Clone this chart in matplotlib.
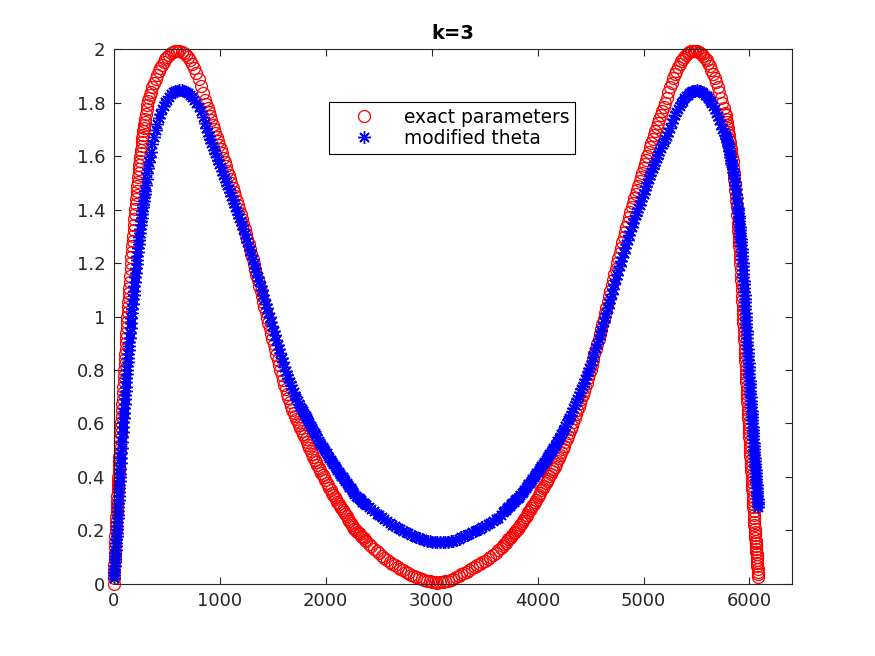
import matplotlib
matplotlib.use("Agg")
import matplotlib.pyplot as plt

# Sample positions (shared by both series)
x_pts = [
    # steep start
    0, 2, 4, 6, 8, 10, 12, 14, 16, 18, 20, 22, 24, 26, 28, 30, 32, 34, 36, 38, 40, 42, 44, 46, 48, 50,
    52, 54, 56, 58, 60,
    63, 66, 69, 72, 75, 78, 81, 84, 87, 90, 93, 96, 99, 102, 105, 108, 111, 114, 117, 120, 123, 126,
    129, 132, 135, 138, 141, 144, 147,
    151, 155, 159, 163, 167, 171, 175, 179, 183, 187, 191, 195, 199, 203, 207, 211, 215, 219, 223, 227,
    231, 235, 239, 243, 247, 251, 255, 259, 263, 267, 271, 275, 279, 283, 287, 291, 295,
    # first peak
    302, 310, 318, 326, 334, 342, 350, 365, 380, 395, 410, 425, 440, 455, 470, 485, 500, 520, 540, 560,
    580, 600, 620, 640, 660, 680, 700, 720, 740, 760, 780, 800, 820, 840, 860,
    # going down
    872, 885, 897, 910, 922, 935, 947, 960, 972, 985, 997, 1010, 1022, 1035, 1047, 1060, 1072, 1085,
    1097, 1110, 1122, 1135, 1147, 1160, 1172, 1185, 1197, 1210, 1222, 1235, 1247, 1260, 1272, 1285,
    1297, 1310, 1322, 1335, 1347, 1360, 1372, 1385, 1397, 1410, 1422, 1435, 1447, 1460, 1472, 1485,
    1497, 1510, 1522, 1535, 1547, 1560, 1572, 1585, 1597, 1610, 1622, 1635, 1647, 1660, 1672, 1685,
    1697, 1710, 1722, 1735, 1747, 1760, 1772, 1785, 1797, 1810, 1822, 1835, 1847, 1860, 1872, 1885,
    1897, 1910, 1922, 1935, 1947, 1960, 1972, 1985, 1997, 2010, 2022, 2035, 2047, 2060, 2072, 2085,
    2097, 2110, 2122, 2135, 2147, 2160, 2172, 2185, 2197, 2210, 2222, 2235, 2247, 2260, 2272, 2285,
    2297, 2310, 2322, 2335, 2347, 2360, 2372, 2385, 2408,
    # bottom
    2430, 2455, 2480, 2505, 2530, 2555, 2580, 2605, 2630, 2655, 2680, 2705, 2730, 2755, 2780, 2805,
    2830, 2855, 2880, 2905, 2930, 2955, 2980, 3005, 3030, 3055, 3080, 3105, 3130, 3155, 3180, 3205,
    3230, 3255, 3280, 3305, 3330, 3355, 3380, 3405, 3430, 3455, 3480, 3505, 3530, 3555, 3580, 3605,
    3630, 3652,
    # going up
    3675, 3687, 3700, 3712, 3725, 3737, 3750, 3762, 3775, 3787, 3800, 3812, 3825, 3837, 3850, 3862,
    3875, 3887, 3900, 3912, 3925, 3937, 3950, 3962, 3975, 3987, 4000, 4012, 4025, 4037, 4050, 4062,
    4075, 4087, 4100, 4112, 4125, 4137, 4150, 4162, 4175, 4187, 4200, 4212, 4225, 4237, 4250, 4262,
    4275, 4287, 4300, 4312, 4325, 4337, 4350, 4362, 4375, 4387, 4400, 4412, 4425, 4437, 4450, 4462,
    4475, 4487, 4500, 4512, 4525, 4537, 4550, 4562, 4575, 4587, 4600, 4612, 4625, 4637, 4650, 4662,
    4675, 4687, 4700, 4712, 4725, 4737, 4750, 4762, 4775, 4787, 4800, 4812, 4825, 4837, 4850, 4862,
    4875, 4887, 4900, 4912, 4925, 4937, 4950, 4962, 4975, 4987, 5000, 5012, 5025, 5037, 5050, 5062,
    5075, 5087, 5100, 5112, 5125, 5137, 5150, 5162, 5175, 5190,
    # second peak
    5205, 5220, 5235, 5250, 5265, 5280, 5295, 5310, 5325, 5340, 5355, 5370, 5385, 5400, 5415, 5430,
    5445, 5460, 5475, 5490, 5505, 5520, 5535, 5550, 5565, 5580, 5595, 5610, 5625, 5640, 5655, 5670,
    5685, 5700, 5715, 5730, 5745, 5757,
    # steep end
    5770, 5775, 5780, 5785, 5790, 5795, 5800, 5805, 5810, 5815, 5820, 5825, 5830, 5835, 5840, 5845,
    5850, 5855, 5860, 5865, 5870, 5875, 5880, 5885, 5890, 5892,
    5895, 5897, 5900, 5902, 5905, 5907, 5910, 5912, 5915, 5917, 5920, 5922, 5925, 5927, 5930, 5932,
    5935, 5937,
    5939, 5941, 5943, 5945, 5947, 5949, 5951, 5953, 5955, 5957, 5959, 5961, 5963, 5965, 5967, 5969,
    5971, 5973, 5975, 5977, 5979, 5981, 5983, 5985, 5987, 5989, 5991, 5993, 5995, 5997, 5999, 6001,
    6003, 6005, 6007, 6009, 6011, 6013, 6015, 6017, 6019, 6021, 6023, 6025, 6027, 6029, 6031, 6033,
    6035, 6037, 6039, 6041, 6043, 6045, 6047, 6049, 6051, 6053, 6055, 6057, 6059, 6061, 6063, 6065,
    6067, 6069, 6071, 6073, 6075, 6077, 6079, 6081, 6083,
]

# "exact parameters" (red circles)
exact_vals = [
    0.000, 0.023, 0.046, 0.070, 0.092, 0.114, 0.136, 0.157, 0.179, 0.200, 0.217, 0.233, 0.249, 0.265,
    0.281, 0.296, 0.311, 0.327, 0.342, 0.357, 0.371, 0.386, 0.401, 0.415, 0.430, 0.445, 0.459, 0.474,
    0.489, 0.503, 0.518,
    0.541, 0.563, 0.585, 0.607, 0.629, 0.650, 0.671, 0.693, 0.714, 0.736, 0.757, 0.778, 0.800, 0.821,
    0.840, 0.860, 0.880, 0.900, 0.920, 0.940, 0.960, 0.980, 0.999, 1.018, 1.036, 1.053, 1.071, 1.088,
    1.106,
    1.129, 1.153, 1.177, 1.200, 1.221, 1.241, 1.262, 1.282, 1.303, 1.323, 1.343, 1.364, 1.384, 1.403,
    1.421, 1.438, 1.455, 1.471, 1.488, 1.504, 1.521, 1.537, 1.552, 1.567, 1.582, 1.596, 1.610, 1.624,
    1.639, 1.653, 1.667, 1.680, 1.693, 1.706, 1.717, 1.729, 1.740,
    1.757, 1.775, 1.791, 1.805, 1.818, 1.830, 1.840, 1.858, 1.874, 1.890, 1.905, 1.918, 1.931, 1.942,
    1.953, 1.962, 1.970, 1.979, 1.986, 1.991, 1.994, 1.995, 1.994, 1.991, 1.986, 1.979, 1.970, 1.959,
    1.946, 1.931, 1.912, 1.890, 1.864, 1.837, 1.810,
    1.795, 1.780, 1.765, 1.749, 1.734, 1.718, 1.703, 1.687, 1.672, 1.656, 1.641, 1.625, 1.610, 1.594,
    1.578, 1.562, 1.546, 1.530, 1.514, 1.498, 1.482, 1.466, 1.450, 1.434, 1.418, 1.402, 1.384, 1.365,
    1.347, 1.328, 1.309, 1.290, 1.271, 1.252, 1.233, 1.214, 1.195, 1.175, 1.156, 1.136, 1.116, 1.096,
    1.076, 1.056, 1.036, 1.016, 0.996, 0.976, 0.956, 0.936, 0.916, 0.896, 0.877, 0.857, 0.838, 0.818,
    0.799, 0.780, 0.763, 0.745, 0.729, 0.712, 0.697, 0.681, 0.667, 0.652, 0.640, 0.627, 0.616, 0.604,
    0.593, 0.582, 0.572, 0.562, 0.552, 0.541, 0.530, 0.519, 0.508, 0.497, 0.487, 0.476, 0.465, 0.454,
    0.445, 0.435, 0.426, 0.416, 0.407, 0.398, 0.389, 0.379, 0.370, 0.360, 0.351, 0.341, 0.332, 0.323,
    0.316, 0.308, 0.300, 0.292, 0.284, 0.276, 0.268, 0.260, 0.252, 0.244, 0.236, 0.228, 0.220, 0.212,
    0.206, 0.200, 0.195, 0.190, 0.185, 0.180, 0.175, 0.170, 0.165, 0.160, 0.150,
    0.140, 0.131, 0.123, 0.114, 0.106, 0.098, 0.090, 0.083, 0.076, 0.069, 0.063, 0.057, 0.051, 0.045,
    0.039, 0.034, 0.030, 0.025, 0.021, 0.017, 0.014, 0.011, 0.009, 0.007, 0.006, 0.005, 0.006, 0.007,
    0.009, 0.012, 0.015, 0.019, 0.024, 0.029, 0.035, 0.040, 0.046, 0.052, 0.058, 0.063, 0.069, 0.074,
    0.080, 0.087, 0.094, 0.101, 0.109, 0.117, 0.125, 0.133,
    0.142, 0.148, 0.154, 0.160, 0.166, 0.172, 0.177, 0.183, 0.189, 0.195, 0.200, 0.206, 0.212, 0.220,
    0.227, 0.235, 0.243, 0.251, 0.259, 0.267, 0.275, 0.283, 0.291, 0.299, 0.307, 0.315, 0.323, 0.332,
    0.341, 0.350, 0.358, 0.367, 0.376, 0.385, 0.394, 0.403, 0.412, 0.421, 0.429, 0.438, 0.447, 0.458,
    0.469, 0.481, 0.493, 0.505, 0.517, 0.529, 0.541, 0.553, 0.565, 0.579, 0.592, 0.607, 0.621, 0.635,
    0.649, 0.663, 0.677, 0.692, 0.706, 0.722, 0.737, 0.753, 0.769, 0.785, 0.800, 0.819, 0.838, 0.858,
    0.877, 0.896, 0.915, 0.935, 0.954, 0.973, 0.992, 1.013, 1.033, 1.054, 1.075, 1.096, 1.117, 1.138,
    1.158, 1.179, 1.200, 1.219, 1.238, 1.258, 1.277, 1.296, 1.315, 1.335, 1.354, 1.373, 1.392, 1.409,
    1.426, 1.442, 1.458, 1.474, 1.490, 1.506, 1.522, 1.538, 1.554, 1.570, 1.586, 1.602, 1.617, 1.633,
    1.648, 1.663, 1.678, 1.694, 1.709, 1.725, 1.740, 1.755, 1.770, 1.784,
    1.798, 1.819, 1.839, 1.857, 1.875, 1.891, 1.906, 1.920, 1.933, 1.944, 1.954, 1.963, 1.972, 1.978,
    1.984, 1.988, 1.992, 1.994, 1.995, 1.995, 1.993, 1.990, 1.987, 1.981, 1.975, 1.967, 1.958, 1.947,
    1.936, 1.923, 1.909, 1.893, 1.877, 1.859, 1.840, 1.819, 1.798, 1.781,
    1.763, 1.752, 1.740, 1.728, 1.716, 1.704, 1.691, 1.678, 1.665, 1.652, 1.638, 1.625, 1.611, 1.596,
    1.580, 1.559, 1.537, 1.516, 1.494, 1.473, 1.452, 1.431, 1.410, 1.381, 1.351, 1.339,
    1.321, 1.307, 1.292, 1.277, 1.262, 1.247, 1.232, 1.215, 1.198, 1.178, 1.157, 1.137, 1.117, 1.098,
    1.078, 1.059, 1.039, 1.024,
    1.008, 0.992, 0.976, 0.960, 0.944, 0.928, 0.912, 0.896, 0.880, 0.864, 0.848, 0.832, 0.816, 0.800,
    0.785, 0.770, 0.755, 0.740, 0.726, 0.711, 0.696, 0.681, 0.666, 0.651, 0.637, 0.622, 0.607, 0.593,
    0.579, 0.564, 0.550, 0.535, 0.521, 0.507, 0.493, 0.478, 0.464, 0.450, 0.436, 0.421, 0.407, 0.393,
    0.380, 0.366, 0.353, 0.339, 0.326, 0.313, 0.300, 0.286, 0.273, 0.259, 0.246, 0.233, 0.220, 0.207,
    0.195, 0.184, 0.173, 0.162, 0.152, 0.141, 0.131, 0.120, 0.110, 0.099, 0.089, 0.078, 0.067, 0.056,
    0.046, 0.035, 0.025,
]

# "modified theta" (blue asterisks)
modified_vals = [
    0.020, 0.032, 0.044, 0.056, 0.068, 0.080, 0.092, 0.104, 0.116, 0.128, 0.141, 0.153, 0.166, 0.179,
    0.192, 0.205, 0.218, 0.232, 0.246, 0.259, 0.273, 0.287, 0.301, 0.315, 0.329, 0.343, 0.357, 0.371,
    0.384, 0.398, 0.412,
    0.430, 0.451, 0.471, 0.490, 0.510, 0.529, 0.548, 0.567, 0.586, 0.604, 0.622, 0.639, 0.656, 0.673,
    0.690, 0.706, 0.722, 0.738, 0.754, 0.770, 0.786, 0.801, 0.816, 0.831, 0.846, 0.861, 0.875, 0.889,
    0.903,
    0.921, 0.940, 0.958, 0.977, 0.995, 1.013, 1.030, 1.047, 1.064, 1.081, 1.097, 1.114, 1.130, 1.147,
    1.163, 1.180, 1.195, 1.211, 1.226, 1.241, 1.255, 1.270, 1.285, 1.299, 1.314, 1.328, 1.342, 1.356,
    1.369, 1.383, 1.396, 1.409, 1.422, 1.434, 1.446, 1.458, 1.470,
    1.491, 1.514, 1.536, 1.557, 1.577, 1.596, 1.614, 1.645, 1.673, 1.698, 1.721, 1.741, 1.759, 1.775,
    1.789, 1.801, 1.811, 1.823, 1.832, 1.839, 1.843, 1.845, 1.846, 1.846, 1.844, 1.841, 1.836, 1.829,
    1.820, 1.809, 1.797, 1.785, 1.767, 1.746, 1.723,
    1.706, 1.689, 1.676, 1.663, 1.650, 1.637, 1.624, 1.610, 1.597, 1.584, 1.571, 1.558, 1.545, 1.531,
    1.518, 1.505, 1.492, 1.478, 1.465, 1.451, 1.437, 1.423, 1.410, 1.396, 1.383, 1.369, 1.356, 1.342,
    1.326, 1.310, 1.295, 1.279, 1.263, 1.247, 1.231, 1.214, 1.198, 1.182, 1.166, 1.149, 1.133, 1.116,
    1.099, 1.082, 1.065, 1.048, 1.031, 1.014, 0.997, 0.980, 0.963, 0.946, 0.929, 0.912, 0.895, 0.878,
    0.862, 0.845, 0.829, 0.813, 0.798, 0.783, 0.769, 0.755, 0.742, 0.729, 0.717, 0.704, 0.694, 0.683,
    0.673, 0.663, 0.654, 0.645, 0.637, 0.628, 0.619, 0.610, 0.601, 0.591, 0.582, 0.572, 0.564, 0.555,
    0.546, 0.536, 0.528, 0.520, 0.512, 0.504, 0.496, 0.488, 0.480, 0.472, 0.464, 0.456, 0.448, 0.440,
    0.433, 0.425, 0.419, 0.412, 0.405, 0.398, 0.392, 0.385, 0.378, 0.371, 0.364, 0.357, 0.351, 0.344,
    0.337, 0.330, 0.325, 0.320, 0.316, 0.312, 0.308, 0.303, 0.299, 0.295, 0.288,
    0.281, 0.272, 0.263, 0.256, 0.249, 0.242, 0.235, 0.228, 0.221, 0.215, 0.210, 0.204, 0.199, 0.194,
    0.189, 0.184, 0.180, 0.176, 0.172, 0.168, 0.165, 0.162, 0.160, 0.158, 0.157, 0.156, 0.155, 0.155,
    0.156, 0.157, 0.159, 0.162, 0.165, 0.169, 0.174, 0.178, 0.183, 0.188, 0.193, 0.198, 0.203, 0.207,
    0.212, 0.217, 0.223, 0.229, 0.235, 0.241, 0.248, 0.257,
    0.267, 0.272, 0.277, 0.282, 0.287, 0.292, 0.297, 0.302, 0.306, 0.312, 0.317, 0.322, 0.326, 0.332,
    0.338, 0.345, 0.351, 0.358, 0.365, 0.372, 0.379, 0.386, 0.392, 0.399, 0.406, 0.413, 0.419, 0.427,
    0.434, 0.441, 0.448, 0.456, 0.464, 0.472, 0.479, 0.487, 0.494, 0.502, 0.509, 0.517, 0.524, 0.533,
    0.541, 0.551, 0.561, 0.571, 0.581, 0.591, 0.601, 0.612, 0.622, 0.633, 0.644, 0.656, 0.668, 0.680,
    0.692, 0.704, 0.716, 0.728, 0.740, 0.753, 0.766, 0.780, 0.793, 0.807, 0.820, 0.835, 0.850, 0.866,
    0.882, 0.899, 0.915, 0.931, 0.947, 0.964, 0.980, 0.997, 1.014, 1.032, 1.049, 1.067, 1.085, 1.103,
    1.121, 1.139, 1.156, 1.173, 1.190, 1.206, 1.222, 1.239, 1.255, 1.271, 1.287, 1.304, 1.320, 1.335,
    1.350, 1.364, 1.378, 1.392, 1.405, 1.419, 1.433, 1.447, 1.460, 1.474, 1.487, 1.501, 1.514, 1.528,
    1.541, 1.554, 1.566, 1.579, 1.592, 1.606, 1.619, 1.632, 1.644, 1.654,
    1.663, 1.677, 1.690, 1.707, 1.723, 1.738, 1.753, 1.766, 1.778, 1.789, 1.799, 1.808, 1.817, 1.824,
    1.830, 1.835, 1.839, 1.842, 1.844, 1.845, 1.846, 1.845, 1.843, 1.840, 1.836, 1.830, 1.824, 1.816,
    1.808, 1.798, 1.788, 1.776, 1.763, 1.749, 1.735, 1.719, 1.702, 1.690,
    1.680, 1.674, 1.667, 1.660, 1.653, 1.646, 1.638, 1.629, 1.619, 1.609, 1.598, 1.587, 1.576, 1.565,
    1.553, 1.542, 1.530, 1.518, 1.505, 1.491, 1.476, 1.459, 1.442, 1.424, 1.405, 1.397,
    1.386, 1.377, 1.367, 1.357, 1.347, 1.336, 1.325, 1.314, 1.302, 1.290, 1.278, 1.266, 1.253, 1.240,
    1.227, 1.214, 1.200, 1.189,
    1.174, 1.160, 1.147, 1.133, 1.120, 1.106, 1.093, 1.079, 1.066, 1.053, 1.040, 1.027, 1.014, 1.000,
    0.987, 0.973, 0.960, 0.946, 0.933, 0.919, 0.906, 0.892, 0.879, 0.865, 0.852, 0.838, 0.825, 0.812,
    0.799, 0.786, 0.773, 0.760, 0.748, 0.735, 0.723, 0.710, 0.698, 0.685, 0.673, 0.660, 0.648, 0.636,
    0.624, 0.612, 0.600, 0.588, 0.576, 0.564, 0.552, 0.540, 0.528, 0.516, 0.505, 0.493, 0.482, 0.470,
    0.459, 0.447, 0.436, 0.425, 0.414, 0.403, 0.392, 0.381, 0.370, 0.359, 0.349, 0.338, 0.328, 0.318,
    0.308, 0.298, 0.288,
]

x_ticks = [0, 1000, 2000, 3000, 4000, 5000, 6000]
y_ticks = [0, 0.2, 0.4, 0.6, 0.8, 1, 1.2, 1.4, 1.6, 1.8, 2]
series_labels = ["exact parameters", "modified theta"]
title_text = "k=3"

# Figure set up like a MATLAB default figure
plt.rcParams["font.family"] = "DejaVu Sans"
fig = plt.figure(figsize=(8.75, 6.56), dpi=100)
ax = fig.add_axes([0.13, 0.11, 0.775, 0.815])

# Red circles first, blue asterisks drawn over them
ax.plot(x_pts, exact_vals, linestyle="none", marker="o", markersize=8.6,
        markerfacecolor="none", markeredgecolor="red", markeredgewidth=0.9,
        clip_on=False, label=series_labels[0])
ax.plot(x_pts, modified_vals, linestyle="none", marker=(8, 2, 0), markersize=9.2,
        markeredgecolor="blue", markerfacecolor="blue", markeredgewidth=1.0,
        clip_on=False, label=series_labels[1])

ax.set_xlim(0, 6400)
ax.set_ylim(0, 2)
ax.set_xticks(x_ticks)
ax.set_yticks(y_ticks)
ax.set_xticklabels([str(v) for v in x_ticks])
ax.set_yticklabels([f"{v:g}" for v in y_ticks])

axis_col = (0.15, 0.15, 0.15)
ax.tick_params(direction="in", length=4.8, width=0.8, top=True, right=True,
               labelsize=13, colors=axis_col, pad=6)
for sp in ax.spines.values():
    sp.set_color(axis_col)
    sp.set_linewidth(0.8)

ax.set_title(title_text, fontsize=14, fontweight="bold", pad=7)

leg = ax.legend(loc="upper left", bbox_to_anchor=(0.317, 0.901), borderaxespad=0,
                fontsize=13.4, handlelength=3.2, handletextpad=0.55, labelspacing=0.12,
                borderpad=0.3, fancybox=False, framealpha=1, edgecolor="black")
leg.get_frame().set_linewidth(0.8)

fig.savefig("out.png", dpi=100)
